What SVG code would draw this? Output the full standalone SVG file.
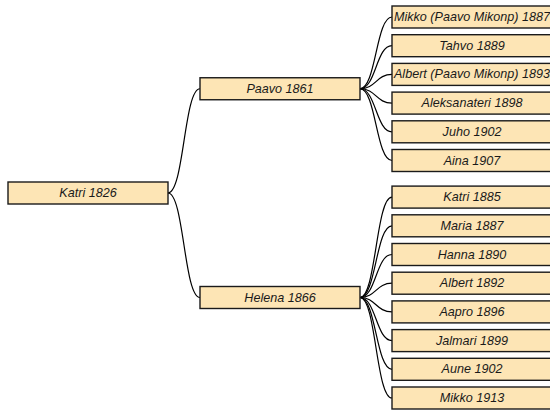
<svg xmlns="http://www.w3.org/2000/svg" width="550" height="411" viewBox="0 0 550 411">
<style>
.n rect{fill:#fde5b5;stroke:#1a1a1a;stroke-width:1.4}
.n text{font-family:"Liberation Sans",Arial,sans-serif;font-size:12.6px;font-style:italic;fill:#1a1a1a;text-anchor:middle;dominant-baseline:central}
.c path{fill:none;stroke:#000;stroke-width:1.2}
</style>
<rect width="550" height="411" fill="#fff"/>
<g class="c">
<path d="M168,193 C184,193 184,88.75 200,88.75"/>
<path d="M168,193 C184,193 184,297.5 200,297.5"/>
<path d="M360,88.75 C376,88.75 376,17 392,17"/>
<path d="M360,88.75 C376,88.75 376,45.7 392,45.7"/>
<path d="M360,88.75 C376,88.75 376,74.4 392,74.4"/>
<path d="M360,88.75 C376,88.75 376,103.1 392,103.1"/>
<path d="M360,88.75 C376,88.75 376,131.8 392,131.8"/>
<path d="M360,88.75 C376,88.75 376,160.5 392,160.5"/>
<path d="M360,297.5 C376,297.5 376,197.1 392,197.1"/>
<path d="M360,297.5 C376,297.5 376,225.8 392,225.8"/>
<path d="M360,297.5 C376,297.5 376,254.5 392,254.5"/>
<path d="M360,297.5 C376,297.5 376,283.2 392,283.2"/>
<path d="M360,297.5 C376,297.5 376,311.9 392,311.9"/>
<path d="M360,297.5 C376,297.5 376,340.6 392,340.6"/>
<path d="M360,297.5 C376,297.5 376,369.3 392,369.3"/>
<path d="M360,297.5 C376,297.5 376,398 392,398"/>
</g>
<g id="katri1826" class="n"><rect x="8" y="182" width="160" height="22"/><text x="88" y="193">Katri 1826</text></g>
<g id="paavo1861" class="n"><rect x="200" y="77.75" width="160" height="22"/><text x="280" y="88.75">Paavo 1861</text></g>
<g id="helena1866" class="n"><rect x="200" y="286.5" width="160" height="22"/><text x="280" y="297.5">Helena 1866</text></g>
<g id="mikko1887" class="n"><rect x="392" y="6" width="160" height="22"/><text x="472" y="17">Mikko (Paavo Mikonp) 1887</text></g>
<g id="tahvo1889" class="n"><rect x="392" y="34.7" width="160" height="22"/><text x="472" y="45.7">Tahvo 1889</text></g>
<g id="albert1893" class="n"><rect x="392" y="63.4" width="160" height="22"/><text x="472" y="74.4">Albert (Paavo Mikonp) 1893</text></g>
<g id="aleksanateri1898" class="n"><rect x="392" y="92.1" width="160" height="22"/><text x="472" y="103.1">Aleksanateri 1898</text></g>
<g id="juho1902" class="n"><rect x="392" y="120.8" width="160" height="22"/><text x="472" y="131.8">Juho 1902</text></g>
<g id="aina1907" class="n"><rect x="392" y="149.5" width="160" height="22"/><text x="472" y="160.5">Aina 1907</text></g>
<g id="katri1885" class="n"><rect x="392" y="186.1" width="160" height="22"/><text x="472" y="197.1">Katri 1885</text></g>
<g id="maria1887" class="n"><rect x="392" y="214.8" width="160" height="22"/><text x="472" y="225.8">Maria 1887</text></g>
<g id="hanna1890" class="n"><rect x="392" y="243.5" width="160" height="22"/><text x="472" y="254.5">Hanna 1890</text></g>
<g id="albert1892" class="n"><rect x="392" y="272.2" width="160" height="22"/><text x="472" y="283.2">Albert 1892</text></g>
<g id="aapro1896" class="n"><rect x="392" y="300.9" width="160" height="22"/><text x="472" y="311.9">Aapro 1896</text></g>
<g id="jalmari1899" class="n"><rect x="392" y="329.6" width="160" height="22"/><text x="472" y="340.6">Jalmari 1899</text></g>
<g id="aune1902" class="n"><rect x="392" y="358.3" width="160" height="22"/><text x="472" y="369.3">Aune 1902</text></g>
<g id="mikko1913" class="n"><rect x="392" y="387" width="160" height="22"/><text x="472" y="398">Mikko 1913</text></g>
</svg>
